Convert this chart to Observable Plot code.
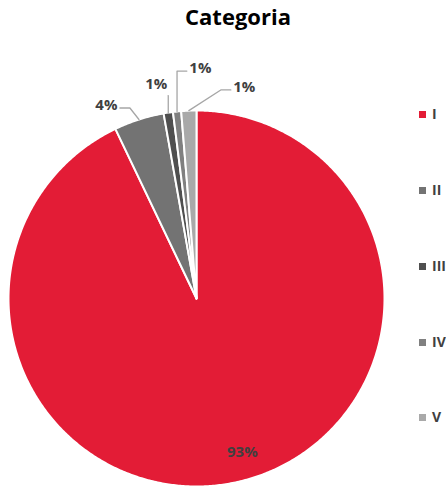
<!DOCTYPE html>
<html>
<head>
<meta charset="utf-8">
<script src="https://cdn.jsdelivr.net/npm/d3@7"></script>
<script src="https://cdn.jsdelivr.net/npm/@observablehq/plot@0.6"></script>
<style>
  html, body { margin: 0; padding: 0; background: #fff; }
  #wrap { position: relative; width: 446px; height: 487px; overflow: hidden; font-family: "Open Sans", sans-serif; }
  #title { position: absolute; left: 0; top: 0; width: 446px; height: 40px; line-height: 32px; padding-left: 30px; box-sizing: border-box; text-align: center; font-size: 22px; font-weight: bold; color: #000; }
  #chart { position: absolute; left: 0; top: 40px; }
  .lg { position: absolute; left: 419px; font-size: 14px; font-weight: bold; color: #404040; white-space: nowrap; line-height: 14px; }
  .lg span.sw { display: inline-block; width: 7px; height: 7px; margin-right: 6px; vertical-align: 1px; }
</style>
</head>
<body>
<div id="wrap">
  <div id="title"></div>
  <div id="chart"></div>
</div>
<script>
// ---- data ----
const chartTitle = "Categoria";
const categories = ["I", "II", "III", "IV", "V"];
const values = [92.9, 4.3, 0.8, 0.7, 1.3];
const colors = ["#e31c36", "#737373", "#4f4f4f", "#808080", "#a9a9a9"];

// ---- layout (not data) ----
const W = 446, H = 447;
const R = 188;           // radius in px
const CX = 196, CY = 258; // centre in svg px
// label placement relative to slice mid-angle: angle shift (deg), radius (in radii)
const labelShift = [-3.8, -7.2, -2.0, 6.9, 15.1];
const labelRadius = [0.855, 1.133, 1.158, 1.223, 1.151];
const outside = [false, true, true, true, true];
const legendTops = [107, 183, 259, 335, 410];

document.getElementById("title").textContent = chartTitle;

const total = d3.sum(values);
const pie = d3.pie().sort(null).value(d => d.value);
const arcs = pie(categories.map((c, i) => ({cat: c, value: values[i], i})));

const pt = (a, r) => ({x: r * Math.sin(a), y: -r * Math.cos(a)});

// slice polygons
const slicePts = [];
arcs.forEach(a => {
  const cat = a.data.cat;
  slicePts.push({cat, ...pt(0, 0)});
  const n = Math.max(2, Math.ceil((a.endAngle - a.startAngle) / (Math.PI / 360)));
  for (let k = 0; k <= n; k++) {
    const ang = a.startAngle + (a.endAngle - a.startAngle) * k / n;
    slicePts.push({cat, ...pt(ang, 1)});
  }
});

// labels and leaders
const labels = [];
const leaders = [];
const hw = 12 / R, px = 1 / R;
arcs.forEach((a, i) => {
  const mid = (a.startAngle + a.endAngle) / 2;
  const la = mid + labelShift[i] * Math.PI / 180;
  const L = pt(la, labelRadius[i]);
  const text = Math.round(a.data.value / total * 100) + "%";
  labels.push({cat: a.data.cat, x: L.x, y: L.y, text});
  if (outside[i]) {
    const s = pt(mid, 1);
    let path;
    if (s.x >= L.x - hw - 2 * px && s.x <= L.x + hw + 2 * px) {
      path = [s, {x: s.x, y: L.y + 11 * px}];
    } else {
      const dir = s.x > L.x ? 1 : -1;
      const att = {x: L.x + dir * (hw + 1.5 * px), y: L.y + 2.5 * px};
      const el = {x: att.x + dir * Math.min(Math.abs(s.x - att.x), 10 * px), y: att.y};
      path = [s, el, att];
    }
    path.forEach(p => leaders.push({cat: a.data.cat, x: p.x, y: p.y}));
  }
});

const plot = Plot.plot({
  width: W,
  height: H,
  margin: 0,
  style: {background: "#fff", fontFamily: "Open Sans, sans-serif"},
  x: {axis: null, domain: [-CX / R, (W - CX) / R], range: [0, W]},
  y: {axis: null, domain: [-CY / R, (H - CY) / R], range: [0, H]},
  color: {domain: categories, range: colors},
  marks: [
    Plot.line(slicePts, {x: "x", y: "y", z: "cat", fill: "cat", stroke: "#fff", strokeWidth: 2, curve: "linear-closed"}),
    Plot.line(leaders, {x: "x", y: "y", z: "cat", stroke: "#a6a6a6", strokeWidth: 1.3}),
    Plot.text(labels, {x: "x", y: "y", text: "text", fontSize: 15, fontWeight: "bold", fill: "#404040"})
  ]
});
document.getElementById("chart").appendChild(plot);

// legend
const wrap = document.getElementById("wrap");
categories.forEach((c, i) => {
  const d = document.createElement("div");
  d.className = "lg";
  d.style.top = legendTops[i] + "px";
  const sw = document.createElement("span");
  sw.className = "sw";
  sw.style.background = colors[i];
  d.appendChild(sw);
  d.appendChild(document.createTextNode(c));
  wrap.appendChild(d);
});
</script>
</body>
</html>
